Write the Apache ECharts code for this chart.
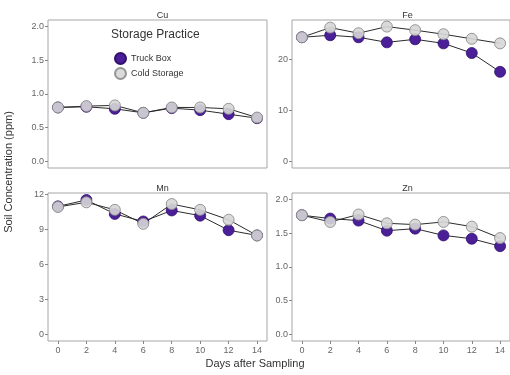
<!DOCTYPE html>
<html>
<head>
    <meta charset="UTF-8">
    <title>Soil Concentration by Storage Practice</title>
    <script src="https://cdn.jsdelivr.net/npm/echarts@6/dist/echarts.min.js"></script>
    <style>
        html, body { margin: 0; padding: 0; background: #fff; }
        #chart { width: 510px; height: 375px; }
    </style>
</head>
<body>
    <div id="chart"></div>

    <script>
        // days after sampling
        var days = [0, 2, 4, 6, 8, 10, 12, 14];

        // values (ppm)
        var cuTruck = [0.80, 0.81, 0.78, 0.72, 0.79, 0.76, 0.70, 0.64];
        var cuCold  = [0.80, 0.82, 0.83, 0.72, 0.80, 0.80, 0.78, 0.65];
        var feTruck = [24.4, 24.8, 24.4, 23.4, 24.0, 23.2, 21.3, 17.6];
        var feCold  = [24.4, 26.3, 25.2, 26.5, 25.8, 25.0, 24.1, 23.2];
        var mnTruck = [11.0, 11.55, 10.35, 9.7, 10.65, 10.2, 8.95, 8.5];
        var mnCold  = [10.95, 11.35, 10.7, 9.5, 11.2, 10.7, 9.85, 8.5];
        var znTruck = [1.77, 1.72, 1.69, 1.54, 1.57, 1.47, 1.42, 1.31];
        var znCold  = [1.77, 1.67, 1.78, 1.65, 1.63, 1.67, 1.60, 1.43];

        var panelNames = ['Cu', 'Fe', 'Mn', 'Zn'];
        var truckData = [cuTruck, feTruck, mnTruck, znTruck];
        var coldData = [cuCold, feCold, mnCold, znCold];

        // y tick values per panel
        var yTicks = [
            [0, 0.5, 1.0, 1.5, 2.0],
            [0, 10, 20],
            [0, 3, 6, 9, 12],
            [0, 0.5, 1.0, 1.5, 2.0]
        ];
        var yRange = [[-0.1, 2.1], [-1.33, 27.8], [-0.58, 12.15], [-0.1, 2.1]];
        var yDecimals = [1, 0, 0, 1];

        var font = 'Liberation Sans';
        var truckColor = '#4a1f98';
        var coldColor = '#d6d6d6';

        var chart = echarts.init(document.getElementById('chart'));

        var grids = [
            { left: 48, top: 20, width: 219, height: 148 },
            { left: 292, top: 20, width: 221, height: 148 },
            { left: 48, top: 193, width: 219, height: 148 },
            { left: 292, top: 193, width: 221, height: 148 }
        ];
        grids.forEach(function (g) {
            g.show = true;
            g.borderColor = '#a6a6a6';
            g.borderWidth = 1;
            g.backgroundColor = '#fff';
        });

        var xAxes = [], yAxes = [], series = [], titles = [];
        for (var i = 0; i < 4; i++) {
            var bottomRow = i >= 2;
            xAxes.push({
                type: 'value', gridIndex: i, min: -0.7, max: 14.7, position: 'bottom',
                axisLine: { show: false, onZero: false },
                splitLine: { show: false },
                axisTick: { show: bottomRow, inside: false, customValues: days, length: 3, lineStyle: { color: '#888' } },
                axisLabel: { show: bottomRow, customValues: days, margin: 5, fontSize: 9, color: '#666', fontFamily: font }
            });
            yAxes.push({
                type: 'value', gridIndex: i, min: yRange[i][0], max: yRange[i][1], position: 'left',
                axisLine: { show: false, onZero: false },
                splitLine: { show: false },
                axisTick: { show: true, inside: false, customValues: yTicks[i], length: 3, lineStyle: { color: '#888' } },
                axisLabel: {
                    customValues: yTicks[i], margin: 4, fontSize: 9, color: '#666', fontFamily: font,
                    formatter: (function (d) { return function (v) { return v.toFixed(d); }; })(yDecimals[i])
                }
            });

            var tPairs = days.map(function (d, k) { return [d, truckData[i][k]]; });
            var cPairs = days.map(function (d, k) { return [d, coldData[i][k]]; });

            // lines under all points, like ggplot
            series.push({ type: 'line', xAxisIndex: i, yAxisIndex: i, data: tPairs, showSymbol: false, silent: true,
                lineStyle: { color: '#2b2b2b', width: 1 }, z: 2 });
            series.push({ type: 'line', xAxisIndex: i, yAxisIndex: i, data: cPairs, showSymbol: false, silent: true,
                lineStyle: { color: '#2b2b2b', width: 1 }, z: 2 });
            series.push({ name: 'Truck Box', type: 'scatter', xAxisIndex: i, yAxisIndex: i, data: tPairs,
                symbolSize: 11, itemStyle: { color: truckColor, borderColor: '#331070', borderWidth: 0.8, opacity: 1 }, z: 3 });
            series.push({ name: 'Cold Storage', type: 'scatter', xAxisIndex: i, yAxisIndex: i, data: cPairs,
                symbolSize: 11, itemStyle: { color: coldColor, borderColor: '#8c8c8c', borderWidth: 1, opacity: 0.9 }, z: 4 });

            var g = grids[i];
            titles.push({
                text: panelNames[i],
                left: g.left + g.width / 2, top: g.top - 14,
                textAlign: 'center',
                textStyle: { fontSize: 9, fontWeight: 'normal', color: '#333', fontFamily: font }
            });
        }

        titles.push({
            text: 'Storage Practice', left: 106, top: 24,
            textStyle: { fontSize: 12, fontWeight: 'normal', color: '#333', fontFamily: font }
        });

        var option = {
            animation: false,
            backgroundColor: '#fff',
            title: titles,
            grid: grids,
            xAxis: xAxes,
            yAxis: yAxes,
            legend: {
                data: ['Truck Box', 'Cold Storage'],
                orient: 'vertical',
                left: 109, top: 47,
                itemWidth: 11, itemHeight: 11, itemGap: 2,
                icon: 'circle',
                textStyle: { fontSize: 9, color: '#333', fontFamily: font }
            },
            graphic: [
                {
                    type: 'text', left: 'center', top: 358,
                    style: { text: 'Days after Sampling', fill: '#333', font: '11px "Liberation Sans"' }
                },
                {
                    type: 'text', x: 9, y: 172, rotation: Math.PI / 2,
                    style: { text: 'Soil Concentration (ppm)', fill: '#333', font: '11px "Liberation Sans"',
                        textAlign: 'center', textVerticalAlign: 'middle' }
                }
            ],
            series: series
        };
        chart.setOption(option);
    </script>
</body>
</html>
